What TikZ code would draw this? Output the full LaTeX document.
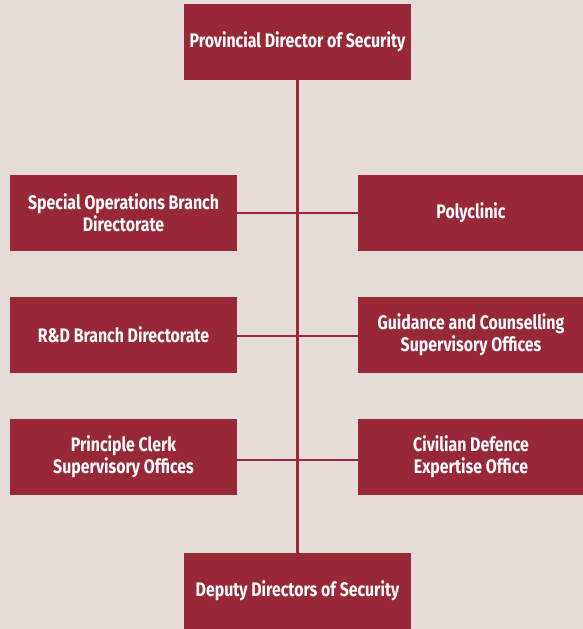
\documentclass[tikz,border=0pt]{standalone}
\usepackage{fontspec}
\setmainfont{Fira Sans}[FakeStretch=0.81]
\usepackage{tikz}
\usetikzlibrary{calc}

\definecolor{boxred}{RGB}{152,40,56}
\definecolor{paper}{RGB}{229,219,215}

\begin{document}
\begin{tikzpicture}[x=1pt,y=-1pt,
	office/.style={fill=boxred,text=white,inner sep=0pt,
		minimum width=227pt,minimum height=76pt,align=center,
		font=\fontsize{19.6}{22}\selectfont\bfseries},
	link/.style={draw=boxred,line width=2.4pt}]
	% background
	\fill[paper] (0,0) rectangle (583,629);
	\useasboundingbox (0,0) rectangle (583,629);

	% top and bottom of the chain
	\node[office] (Top) at (297.5,42) {Provincial Director of Security};
	\node[office] (Bottom) at (297.5,591) {Deputy Directors of Security};

	% left column
	\node[office] (L1) at (123.5,213) {Special Operations Branch\\Directorate};
	\node[office] (L2) at (123.5,335) {R\&D Branch Directorate};
	\node[office] (L3) at (123.5,457) {Principle Clerk\\Supervisory Offices};

	% right column
	\node[office,minimum width=226pt] (R1) at (471,213) {Polyclinic};
	\node[office,minimum width=226pt] (R2) at (471,335) {Guidance and Counselling\\Supervisory Offices};
	\node[office,minimum width=226pt] (R3) at (471,457) {Civilian Defence\\Expertise Office};

	% the main spine
	\draw[link] (Top) -- (Bottom);
	% the branches
	\draw[link] (L1) -- (R1);
	\draw[link] ($(L2.east)+(0,1)$) -- ($(R2.west)+(0,1)$);
	\draw[link] ($(L3.east)+(0,3)$) -- ($(R3.west)+(0,3)$);
\end{tikzpicture}
\end{document}
